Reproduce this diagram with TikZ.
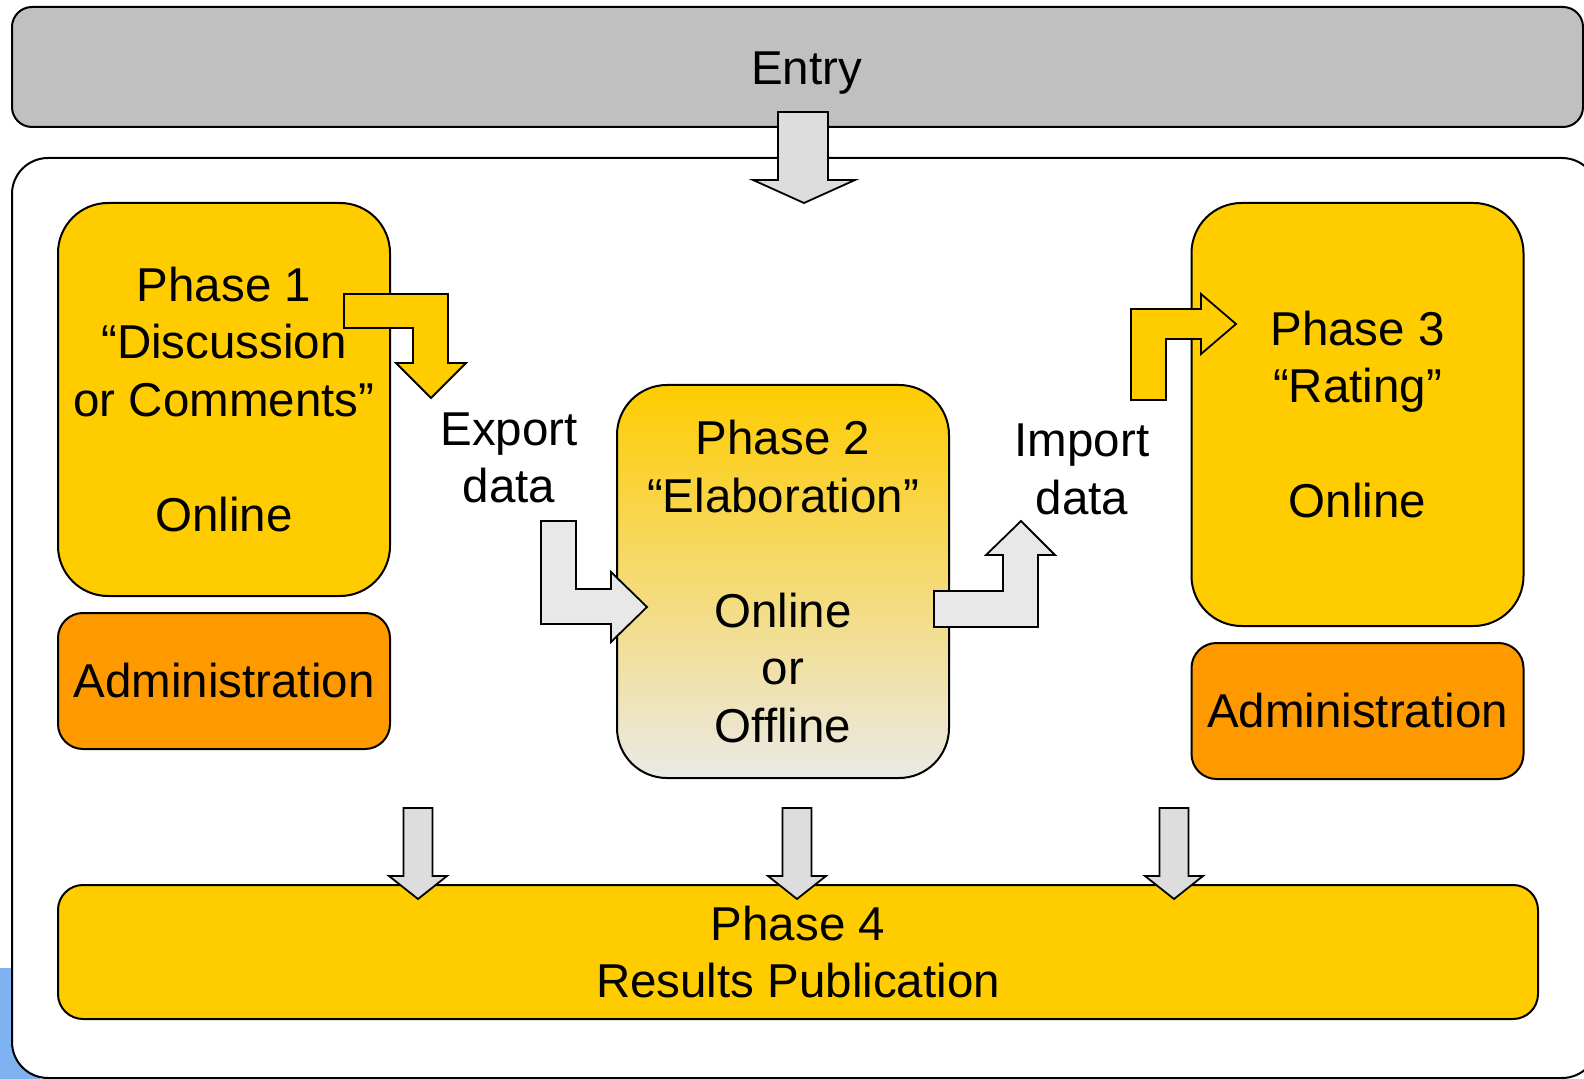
\documentclass[tikz,border=0pt]{standalone}
\usepackage{fontspec}
\setmainfont{Liberation Sans}
\usetikzlibrary{positioning}

\definecolor{phaseyellow}{HTML}{FFCC00}
\definecolor{adminorange}{HTML}{FF9900}
\definecolor{entrygray}{HTML}{C0C0C0}
\definecolor{arrowgray}{HTML}{DDDDDD}
\definecolor{bentgray}{HTML}{E8E8E8}
\definecolor{fadeorange}{HTML}{F2DCB8}
\definecolor{fadegray}{HTML}{EAE9E7}
\definecolor{cornerblue}{HTML}{7FB2F0}

\begin{document}
\begin{tikzpicture}[x=0.5pt,y=-0.5pt,font=\fontsize{23.75pt}{28.8pt}\selectfont]
\tikzstyle{entrybox} = [draw, line width=1pt, fill=entrygray, rounded corners=10pt, minimum width=785.5pt, minimum height=60pt]
\tikzstyle{framebox} = [draw, line width=1pt, fill=white, rounded corners=18pt]
\tikzstyle{phase} = [draw, line width=1pt, fill=phaseyellow, rounded corners=25pt, minimum width=166pt, inner sep=0pt, align=center]
\tikzstyle{phasefade} = [top color=phaseyellow, middle color=fadeorange, bottom color=fadegray]
\tikzstyle{admin} = [draw, line width=1pt, fill=adminorange, rounded corners=12.5pt, minimum width=166pt, minimum height=68pt, inner sep=0pt]
\tikzstyle{results} = [draw, line width=1pt, fill=phaseyellow, rounded corners=12.5pt, minimum width=740pt, minimum height=67pt, inner sep=0pt, align=center]
\tikzstyle{txt} = [align=center, inner sep=0pt]
\tikzstyle{yellowarrow} = [draw, line width=0.9pt, fill=phaseyellow]
\tikzstyle{grayarrow} = [draw, line width=0.9pt, fill=bentgray]
\tikzstyle{downarrow} = [draw, line width=0.9pt, fill=arrowgray]

\useasboundingbox (0,0) rectangle (1584,1079);
\clip (0,0) rectangle (1584,1079);

% background pieces
\fill[cornerblue] (0,968) rectangle (40,1079);
\node[entrybox, label={[xshift=4.5pt,yshift=-3pt]center:Entry}] (entry) at (797.5,67) {};
\draw[framebox] (12,158) rectangle (1598,1078);

% phases
\node[phase, minimum height=196.5pt] (phase1) at (224,399.5) {Phase 1\\“Discussion\\or Comments”\\\mbox{}\\Online};
\node[admin, below=7.5pt of phase1] (admin1) {Administration};

\node[phase, phasefade, minimum height=196.5pt] (phase2) at (783,581.5) {Phase 2\\“Elaboration”\\\mbox{}\\Online\\or\\Offline};

\node[phase, minimum height=211.5pt] (phase3) at (1357.5,414.5) {Phase 3\\“Rating”\\\mbox{}\\Online};
\node[admin, below=7.5pt of phase3] (admin3) {Administration};

\node[results] (phase4) at (798,952) {Phase 4\\Results Publication};

\node[txt] (export) at (509,458) {Export\\data};
\node[txt] (import) at (1082,469.5) {Import\\data};

% block arrows
\draw[downarrow] (778,112) -- (828,112) -- (828,180) -- (855,180) -- (804,203) -- (753,180) -- (778,180) -- cycle;

\draw[yellowarrow] (344,294) -- (448,294) -- (448,363) -- (466,363) -- (431,398) -- (396,363) -- (413,363) -- (413,328) -- (344,328) -- cycle;
\draw[grayarrow] (541,521) -- (576,521) -- (576,589) -- (611,589) -- (611,572) -- (647,607) -- (611,642) -- (611,624) -- (541,624) -- cycle;
\draw[grayarrow] (934,591) -- (1003,591) -- (1003,555) -- (986,555) -- (1021,521) -- (1055,555) -- (1038,555) -- (1038,627) -- (934,627) -- cycle;
\draw[yellowarrow] (1131,400) -- (1131,309) -- (1201,309) -- (1201,294) -- (1236,324) -- (1201,354) -- (1201,339) -- (1166,339) -- (1166,400) -- cycle;

\foreach \x in {418,797,1174}
  \draw[downarrow] (\x-14.5,808) -- (\x+14.5,808) -- (\x+14.5,876) -- (\x+29,876) -- (\x,899) -- (\x-29,876) -- (\x-14.5,876) -- cycle;
\end{tikzpicture}
\end{document}
